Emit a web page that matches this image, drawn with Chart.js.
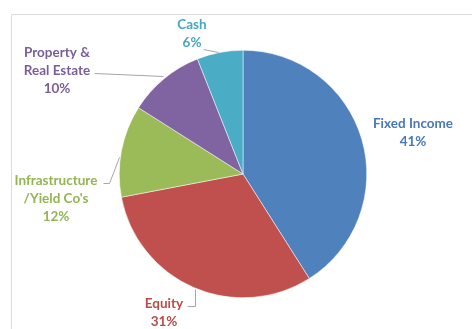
<!DOCTYPE html>
<html>
<head>
<meta charset="utf-8">
<script src="https://cdn.jsdelivr.net/npm/chart.js@4.4.0/dist/chart.umd.min.js"></script>
<style>
    html, body { margin: 0; padding: 0; background: #ffffff; }
    #wrap { position: relative; width: 472px; height: 329px; }
</style>
</head>
<body>
<div id="wrap"><canvas id="allocationPie" width="472" height="329"></canvas></div>
<script>
// ==========================================
// Asset allocation pie - data
// ==========================================

const CATEGORIES = ['Fixed Income', 'Equity', 'Infrastructure /Yield Co\'s', 'Property & Real Estate', 'Cash'];
const SHARES = [41, 31, 12, 10, 6];
const SLICE_COLORS = ['#4F81BD', '#C0504D', '#9BBB59', '#8064A2', '#4BACC6'];
const LABEL_COLORS = ['#4A78B4', '#BC4A47', '#93B553', '#7A5E9C', '#45A6C0'];

// label text lines per slice
const LABEL_LINES = [
    ['Fixed Income', '41%'],
    ['Equity', '31%'],
    ['Infrastructure', '/Yield Co\'s', '12%'],
    ['Property &', 'Real Estate', '10%'],
    ['Cash', '6%']
];

// where each label sits (centre x, first line middle y), relative to pie centre
const LABEL_OFFSETS = [
    { dx: 170, dy: -50 },
    { dx: -79, dy: 130 },
    { dx: -187, dy: 7 },
    { dx: -186, dy: -121 },
    { dx: -51, dy: -149 }
];

// leader line points, relative to pie centre (null = no leader)
const LEADERS = [
    null,
    [[-56, 132], [-48, 132], [-48, 115]],
    [[-140, 9], [-134, 9], [-124, -17]],
    [[-149, -101], [-80, -98]],
    [[-40, -125], [-25, -122]]
];

// ==========================================
// Plugins
// ==========================================

const frameAndLabels = {
    id: 'frameAndLabels',
    beforeDraw(chart) {
        const ctx = chart.ctx;
        ctx.save();
        ctx.strokeStyle = '#dcdcdc';
        ctx.lineWidth = 1;
        ctx.beginPath();
        ctx.moveTo(11.5, chart.height + 5);
        ctx.lineTo(11.5, 14.5);
        ctx.lineTo(chart.width + 5, 14.5);
        ctx.stroke();
        ctx.restore();
    },
    afterDraw(chart) {
        const ctx = chart.ctx;
        const arc = chart.getDatasetMeta(0).data[0];
        const cx = arc.x;
        const cy = arc.y;

        ctx.save();
        ctx.strokeStyle = '#a6a6a6';
        ctx.lineWidth = 1;
        LEADERS.forEach(pts => {
            if (!pts) return;
            ctx.beginPath();
            pts.forEach((p, i) => {
                const x = Math.round(cx + p[0]) + 0.5;
                const y = Math.round(cy + p[1]) + 0.5;
                if (i === 0) ctx.moveTo(x, y); else ctx.lineTo(x, y);
            });
            ctx.stroke();
        });

        ctx.font = "bold 13.5px Lato, 'Liberation Sans', sans-serif";
        ctx.textAlign = 'center';
        ctx.textBaseline = 'middle';
        LABEL_LINES.forEach((lines, i) => {
            ctx.fillStyle = LABEL_COLORS[i];
            const off = LABEL_OFFSETS[i];
            lines.forEach((t, j) => {
                ctx.fillText(t, cx + off.dx, cy + off.dy + j * 18);
            });
        });
        ctx.restore();
    }
};

// ==========================================
// Chart
// ==========================================

new Chart(document.getElementById('allocationPie'), {
    type: 'pie',
    data: {
        labels: CATEGORIES,
        datasets: [{
            data: SHARES,
            backgroundColor: SLICE_COLORS,
            borderColor: '#ffffff',
            borderWidth: 0.5
        }]
    },
    options: {
        responsive: false,
        animation: false,
        layout: {
            padding: { top: 50, bottom: 31, left: 119, right: 105 }
        },
        plugins: {
            legend: { display: false },
            tooltip: { enabled: false }
        }
    },
    plugins: [frameAndLabels]
});
</script>
</body>
</html>
